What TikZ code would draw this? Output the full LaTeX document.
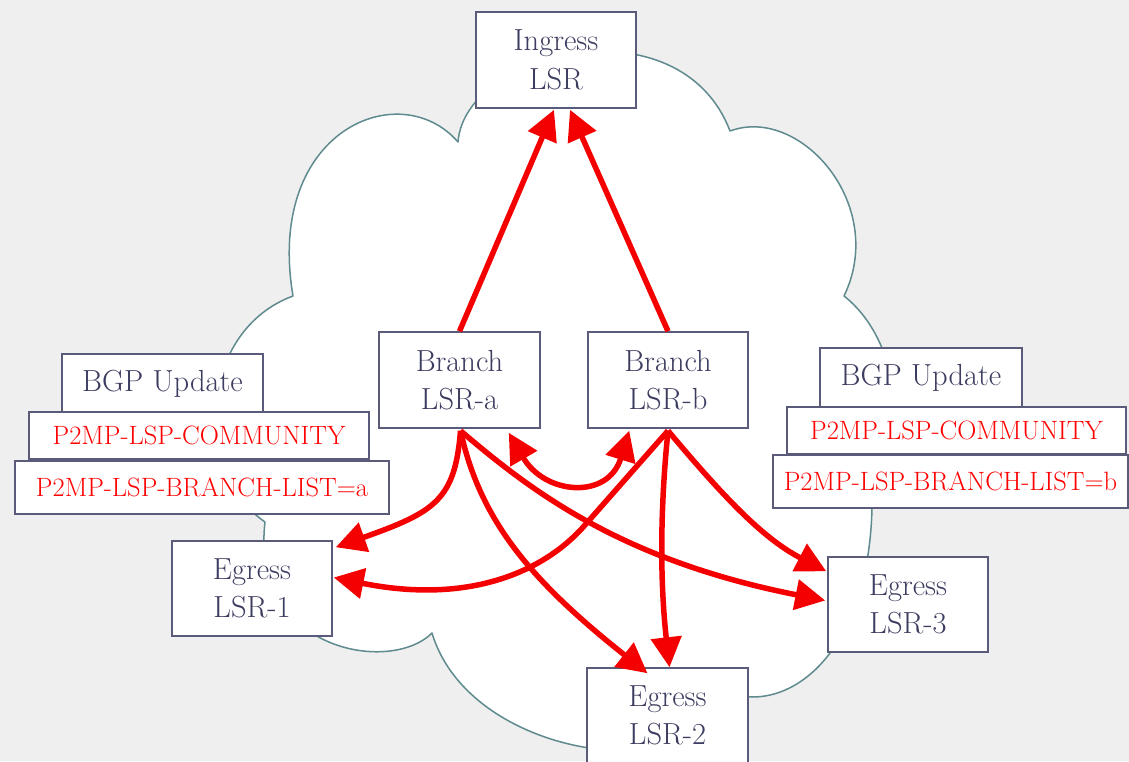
\documentclass[tikz,border=0pt]{standalone}
\usetikzlibrary{arrows.meta,calc}
\definecolor{paper}{RGB}{239,239,239}
\definecolor{cloudline}{RGB}{95,138,142}
\definecolor{boxline}{RGB}{90,90,122}
\definecolor{boxtext}{RGB}{60,60,96}
\definecolor{linkred}{RGB}{245,0,0}

\begin{document}
\begin{tikzpicture}[x=1pt,y=-1pt,
  lsr/.style={draw=boxline, line width=1.5pt, fill=white, text=boxtext,
    inner sep=0pt, align=center, font=\fontsize{30.5}{38.4}\selectfont},
  attr/.style={draw=boxline, line width=1.5pt, fill=white, text=red,
    inner sep=0pt, font=\fontsize{26.5}{30}\selectfont},
  link/.style={draw=linkred, line width=5.5pt, -{Triangle[length=30pt,width=30pt]}},
  twoway/.style={draw=linkred, line width=5.5pt,
    {Triangle[length=30pt,width=30pt]}-{Triangle[length=30pt,width=30pt]}},
  cloud outline/.style={draw=cloudline, line width=1.5pt, fill=white, line join=round}
]
\useasboundingbox (0,0) rectangle (1129,761);
\fill[paper] (0,0) rectangle (1129,761);

% the network cloud
\path[cloud outline]
  (458,142) .. controls (465,50) and (680,0) .. (730,131)
  .. controls (800,105) and (888,205) .. (844,296)
  .. controls (900,340) and (910,440) .. (872,490)
  .. controls (875,640) and (800,710) .. (735,695)
  .. controls (700,790) and (470,760) .. (432,633)
  .. controls (390,675) and (250,650) .. (265,522)
  .. controls (190,470) and (200,330) .. (293,296)
  .. controls (265,130) and (400,75) .. (458,142) -- cycle;

% routers
\node[lsr, minimum width=160pt, minimum height=96pt] (ingress) at (556,60) {Ingress\\LSR};
\node[lsr, minimum width=161pt, minimum height=96pt] (bra) at (459.5,380) {Branch\\LSR-a};
\node[lsr, minimum width=160pt, minimum height=96pt] (brb) at (668,380) {Branch\\LSR-b};
\node[lsr, minimum width=160pt, minimum height=95pt] (e1) at (252,588.5) {Egress\\LSR-1};
\node[lsr, minimum width=161pt, minimum height=95pt] (e2) at (667.5,715.5) {Egress\\LSR-2};
\node[lsr, minimum width=160pt, minimum height=95pt] (e3) at (908,604.5) {Egress\\LSR-3};

% BGP updates
\node[lsr, minimum width=201pt, minimum height=59pt] (bgpL) at (162.5,383.5) {BGP Update};
\node[attr, minimum width=340pt, minimum height=47pt] (commL) at (199,435.5) {P2MP-LSP-COMMUNITY};
\node[attr, minimum width=374pt, minimum height=53pt] (listL) at (202,487.5) {P2MP-LSP-BRANCH-LIST=a};

\node[lsr, minimum width=202pt, minimum height=60pt] (bgpR) at (921,378) {BGP Update};
\node[attr, minimum width=339pt, minimum height=47pt] (commR) at (956.5,430.5) {P2MP-LSP-COMMUNITY};
\node[attr, minimum width=355pt, minimum height=53pt] (listR) at (950.5,481.5) {P2MP-LSP-BRANCH-LIST=b};

% label switched paths
\draw[link] (bra.north) -- ($(ingress.south)+(-2,1)$);
\draw[link] (brb.north) -- ($(ingress.south)+(14,1)$);

\draw[link] ($(bra.south)+(1,2)$) .. controls (455,500) and (435,512) .. ($(e1.north east)+(3,7)$);
\draw[link] ($(bra.south)+(1,2)$) .. controls (480,520) and (530,580) .. ($(e2.north)+(-20,6)$);
\draw[link] ($(bra.south)+(1,2)$) .. controls (530,490) and (620,560) .. ($(e3.west)+(-2,-4)$);

\draw[link] ($(brb.south)+(0,2)$) -- (585,525) .. controls (545,571) and (470,605) .. ($(e1.east)+(1,-11)$);
\draw[link] ($(brb.south)+(0,2)$) .. controls (658,530) and (662,600) .. ($(e2.north)+(2,0)$);
\draw[link] ($(brb.south)+(0,2)$) .. controls (722,495) and (762,538) .. ($(e3.north west)+(-1,15)$);

\draw[twoway] ($(bra.south east)+(-32,4)$) .. controls (545,495) and (608,500) .. ($(brb.south west)+(42,2)$);
\end{tikzpicture}
\end{document}
